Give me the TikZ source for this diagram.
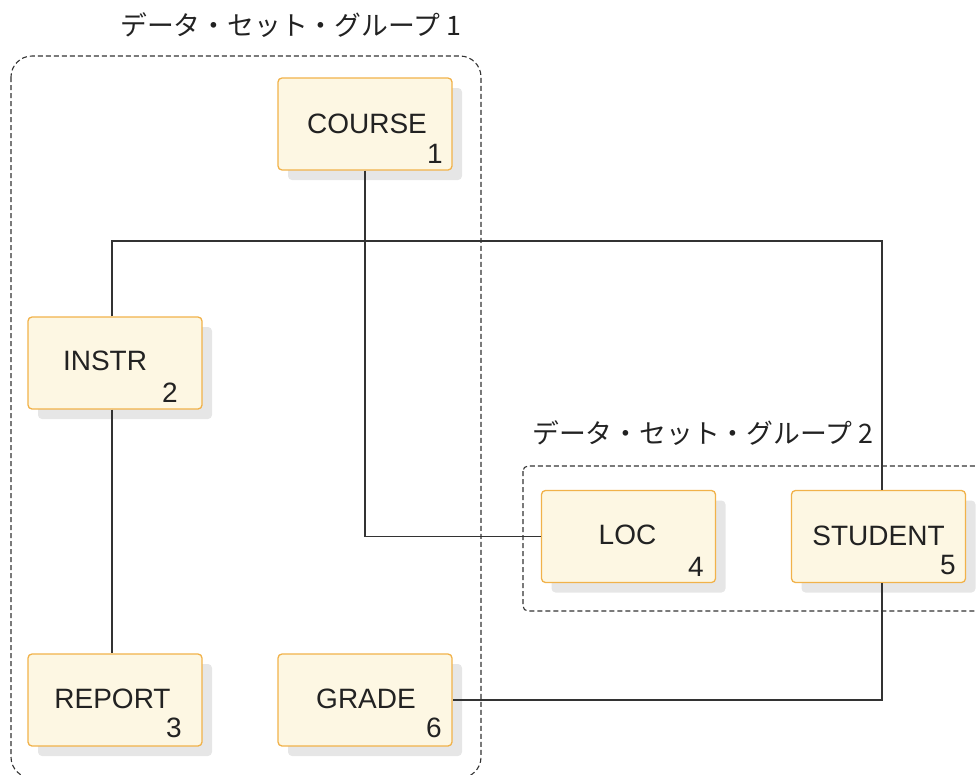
\documentclass[tikz,border=0pt]{standalone}
\usepackage{fontspec}
\setmainfont{Liberation Sans}
\newfontfamily\jp{Noto Sans CJK JP}
\usetikzlibrary{shadows}
\definecolor{boxfill}{HTML}{FDF7E3}
\definecolor{boxdraw}{HTML}{F1B24A}
\definecolor{shadowgray}{HTML}{E6E6E6}
\definecolor{linegray}{HTML}{333333}
\definecolor{textgray}{HTML}{222222}
\tikzset{
  x=1pt, y=-1pt,
  box/.style={draw=boxdraw, fill=boxfill, line width=1.3pt, rounded corners=4pt,
    minimum width=174pt, minimum height=92pt, inner sep=0pt,
    drop shadow={shadow xshift=10pt, shadow yshift=-10pt, fill=shadowgray, opacity=1}},
  lbl/.style={anchor=base, inner sep=0pt, text=textgray, font=\fontsize{28}{32}\selectfont},
  num/.style={anchor=base east, inner sep=0pt, text=textgray, font=\fontsize{28}{32}\selectfont},
  grp/.style={draw=linegray, line width=1.1pt, dash pattern=on 5pt off 3pt},
  title/.style={anchor=base west, inner sep=0pt, text=textgray, font=\jp\fontsize{26.8}{30}\selectfont},
  conn/.style={draw=linegray, line width=1.3pt},
}
\begin{document}
\begin{tikzpicture}
\useasboundingbox (0,0) rectangle (976,774);
\clip (0,0) rectangle (976,774);
% groups
\draw[grp, rounded corners=21pt] (11,56) rectangle (481,778);
\draw[grp, rounded corners=5pt] (523,466) rectangle (990,611);
\node[title] (t1) at (120,35) {データ・セット・グループ 1};
\node[title] (t2) at (532,443) {データ・セット・グループ 2};
% boxes
\node[box] (course) at (365,124) {};
\node[box] (instr) at (115,363) {};
\node[box] (report) at (115,700) {};
\node[box] (grade) at (365,700) {};
\node[box] (loc) at (628.5,536.5) {};
\node[box] (student) at (878.5,536.5) {};
% names
\node[lbl] (courset) at (367,133) {COURSE};
\node[lbl] (instrt) at (105,370) {INSTR};
\node[lbl] (reportt) at (112.5,708) {REPORT};
\node[lbl] (gradet) at (366,708) {GRADE};
\node[lbl] (loct) at (627.5,544) {LOC};
\node[lbl] (studentt) at (878.5,545) {STUDENT};
% numbers
\node[num] (coursen) at (443,163) {1};
\node[num] (instrn) at (178,402) {2};
\node[num] (reportn) at (182,737) {3};
\node[num] (graden) at (442,737) {6};
\node[num] (locn) at (704,576) {4};
\node[num] (studentn) at (956,574) {5};
% connectors
\coordinate (instrtop) at ([xshift=-3pt]instr.north);
\coordinate (instrbot) at ([xshift=-3pt]instr.south);
\coordinate (studtop) at ([xshift=3.5pt]student.north);
\coordinate (studbot) at ([xshift=3.5pt]student.south);
\coordinate (bus) at (0,241);
\draw[conn] (course.south) |- (loc.west);
\draw[conn] (instrtop) -- (instrtop |- bus) -| (studtop);
\draw[conn] (instrbot) -- (instrbot |- report.north);
\draw[conn] (studbot) |- (grade.east);
\end{tikzpicture}
\end{document}
